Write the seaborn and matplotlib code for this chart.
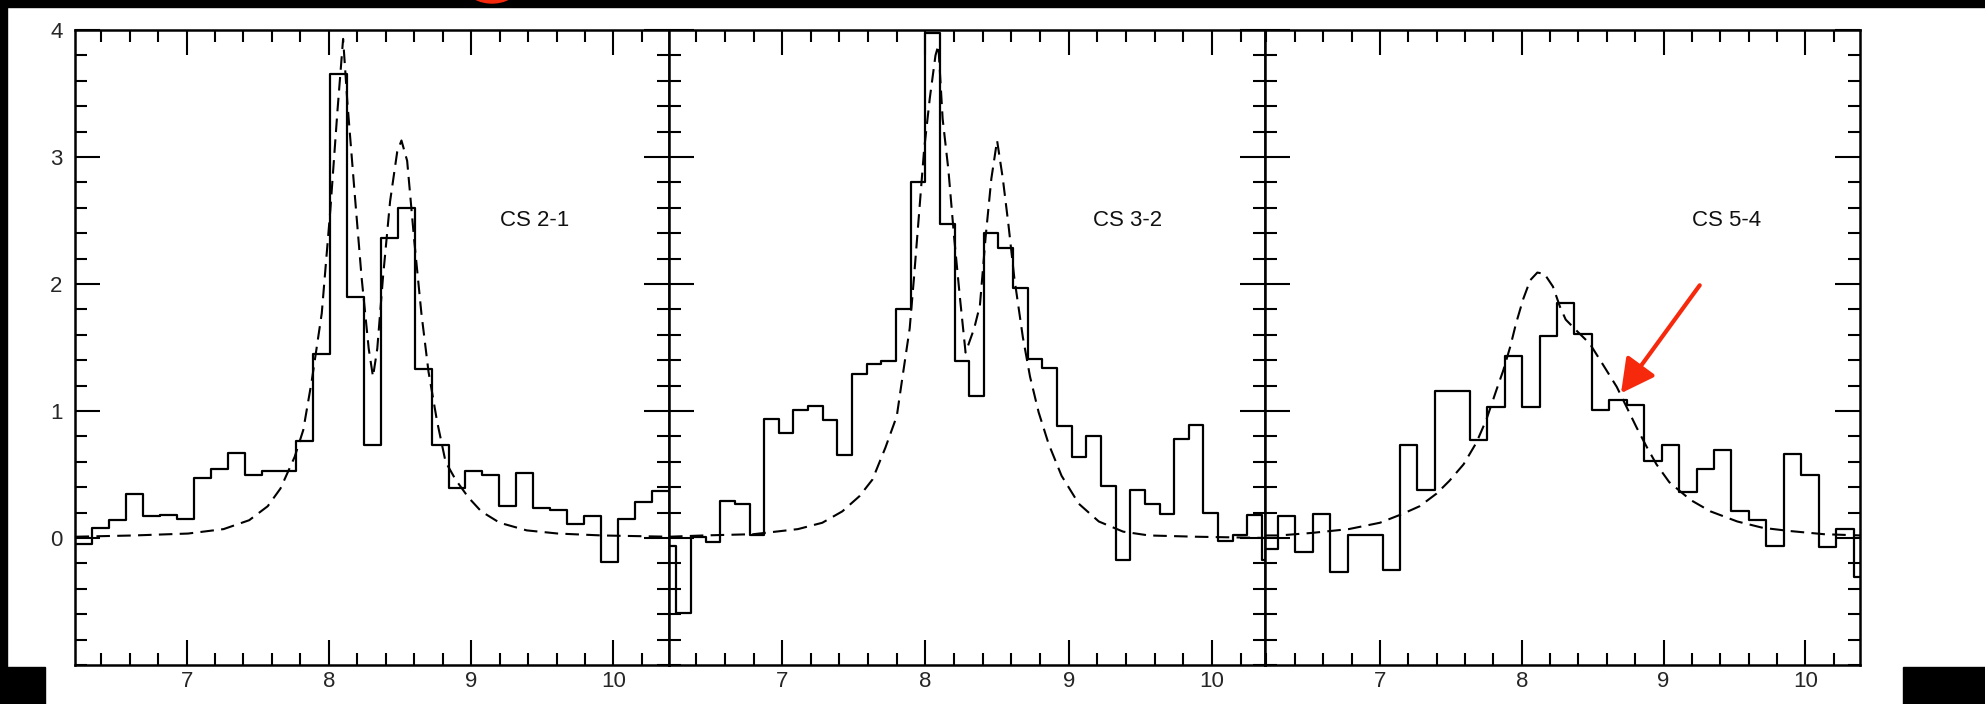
import numpy as np
import pandas as pd
import matplotlib
matplotlib.use("Agg")
import matplotlib.pyplot as plt
from matplotlib.patches import Rectangle, Ellipse
from matplotlib.ticker import MultipleLocator, FixedLocator
import seaborn as sns

# ---------------------------------------------------------------
# Observed spectra: first channel edge (km/s), channel width (km/s)
# and antenna temperature per channel (K)
# ---------------------------------------------------------------
cs21_v0, cs21_dv = 6.216, 0.1193
cs21_T = [-0.05, 0.08, 0.14, 0.35, 0.17, 0.18, 0.15, 0.47, 0.54, 0.67,
          0.50, 0.53, 0.53, 0.76, 1.45, 3.65, 1.90, 0.73, 2.36, 2.60,
          1.33, 0.73, 0.39, 0.53, 0.50, 0.25, 0.51, 0.24, 0.22, 0.11,
          0.17, -0.19, 0.15, 0.28, 0.37]

cs32_v0, cs32_dv = 6.159, 0.1022
cs32_T = [-0.06, -0.59, 0.01, -0.03, 0.29, 0.27, 0.02, 0.94, 0.83, 1.01,
          1.04, 0.93, 0.65, 1.29, 1.37, 1.39, 1.80, 2.80, 3.98, 2.47,
          1.39, 1.12, 2.40, 2.28, 1.97, 1.41, 1.34, 0.88, 0.64, 0.80,
          0.41, -0.17, 0.38, 0.27, 0.19, 0.78, 0.89, 0.20, -0.02, 0.02,
          0.18, -0.17]

cs54_v0, cs54_dv = 6.158, 0.123
cs54_T = [-0.09, 0.17, -0.11, 0.19, -0.27, 0.02, 0.02, -0.25, 0.73, 0.38,
          1.16, 1.16, 0.77, 1.03, 1.43, 1.03, 1.59, 1.85, 1.61, 1.01,
          1.09, 1.05, 0.61, 0.73, 0.36, 0.54, 0.69, 0.21, 0.14, -0.06,
          0.66, 0.50, -0.07, 0.07, -0.31]

# ---------------------------------------------------------------
# Model line profiles (dashed)
# ---------------------------------------------------------------
cs21_model_v = [6.22, 6.63, 7.01, 7.26, 7.44, 7.57, 7.66, 7.76, 7.82, 7.88,
                7.95, 8.01, 8.06, 8.10, 8.13, 8.18, 8.23, 8.28, 8.31, 8.34,
                8.38, 8.43, 8.48, 8.51, 8.55, 8.60, 8.65, 8.70, 8.76, 8.82,
                8.89, 8.98, 9.07, 9.20, 9.39, 9.61, 9.92, 10.39]
cs21_model_T = [0.01, 0.02, 0.035, 0.07, 0.14, 0.25, 0.39, 0.64, 0.85, 1.24,
                1.77, 2.58, 3.36, 3.93, 3.43, 2.73, 2.05, 1.49, 1.27, 1.49,
                2.05, 2.65, 3.04, 3.13, 2.97, 2.34, 1.77, 1.31, 0.92, 0.60,
                0.46, 0.32, 0.21, 0.12, 0.06, 0.035, 0.02, 0.01]

cs32_model_v = [6.21, 6.45, 6.80, 7.11, 7.28, 7.42, 7.54, 7.63, 7.72, 7.80,
                7.84, 7.89, 7.92, 7.96, 7.99, 8.03, 8.07, 8.09, 8.12, 8.16,
                8.20, 8.24, 8.28, 8.34, 8.38, 8.42, 8.46, 8.50, 8.54, 8.58,
                8.62, 8.68, 8.73, 8.79, 8.86, 8.95, 9.07, 9.21, 9.38, 9.56,
                9.89, 10.39]
cs32_model_T = [0.01, 0.02, 0.03, 0.07, 0.12, 0.21, 0.33, 0.46, 0.71, 0.96,
                1.27, 1.65, 2.05, 2.62, 3.05, 3.46, 3.80, 3.88, 3.30, 2.90,
                2.37, 1.90, 1.46, 1.65, 1.83, 2.37, 2.83, 3.13, 2.83, 2.46,
                2.05, 1.58, 1.27, 0.99, 0.74, 0.49, 0.27, 0.13, 0.05, 0.02,
                0.01, 0.0]

cs54_model_v = [6.19, 6.29, 6.52, 6.78, 7.00, 7.16, 7.28, 7.40, 7.49, 7.59,
                7.68, 7.75, 7.82, 7.87, 7.92, 7.96, 8.01, 8.06, 8.11, 8.16,
                8.22, 8.27, 8.31, 8.38, 8.48, 8.57, 8.67, 8.74, 8.81, 8.88,
                8.95, 9.04, 9.19, 9.33, 9.52, 9.70, 9.89, 10.13, 10.39]
cs54_model_T = [0.02, 0.02, 0.04, 0.07, 0.12, 0.19, 0.25, 0.35, 0.45, 0.58,
                0.75, 0.93, 1.16, 1.32, 1.51, 1.69, 1.88, 2.03, 2.09, 2.08,
                1.98, 1.82, 1.72, 1.64, 1.53, 1.37, 1.19, 1.03, 0.87, 0.72,
                0.58, 0.44, 0.30, 0.21, 0.13, 0.08, 0.055, 0.03, 0.02]

line_names = ["CS 2-1", "CS 3-2", "CS 5-4"]
x_tick_labels = [7, 8, 9, 10]
y_tick_labels = [0, 1, 2, 3, 4]

# ---------------------------------------------------------------
sns.set_theme(style="white")
plt.rcParams["font.family"] = ["Liberation Sans", "DejaVu Sans"]
plt.rcParams["axes.linewidth"] = 1.8

W, H = 1985, 704
fig = plt.figure(figsize=(W / 100, H / 100), dpi=100)
fig.patch.set_facecolor("white")

# panel boxes in pixels (left, right); common top/bottom
panel_px = [(75, 669), (669, 1265), (1265, 1860)]
top_px, bot_px = 30, 665
xlims = [(6.216, 10.39), (6.21, 10.37), (6.19, 10.385)]
label_x = [9.2, 9.17, 9.2]

spectra = [
    (cs21_v0, cs21_dv, cs21_T, cs21_model_v, cs21_model_T),
    (cs32_v0, cs32_dv, cs32_T, cs32_model_v, cs32_model_T),
    (cs54_v0, cs54_dv, cs54_T, cs54_model_v, cs54_model_T),
]

axes = []
for i, ((l, r), (v0, dv, T, mv, mT)) in enumerate(zip(panel_px, spectra)):
    ax = fig.add_axes([l / W, (H - bot_px) / H, (r - l) / W, (bot_px - top_px) / H])
    ax.set_facecolor("white")

    edges = v0 + dv * np.arange(len(T) + 1)
    steps = pd.DataFrame({"v": edges, "T": list(T) + [T[-1]]})
    sns.lineplot(data=steps, x="v", y="T", drawstyle="steps-post",
                 estimator=None, sort=False, color="black", lw=1.6, ax=ax)

    model = pd.DataFrame({"v": mv, "T": mT})
    sns.lineplot(data=model, x="v", y="T", estimator=None, sort=False,
                 color="black", lw=1.5, linestyle=(0, (6.5, 3.5)), ax=ax)

    ax.set_xlim(*xlims[i])
    ax.set_ylim(-1, 4)
    ax.set_xlabel("")
    ax.set_ylabel("")

    ax.xaxis.set_major_locator(FixedLocator(x_tick_labels))
    ax.xaxis.set_minor_locator(MultipleLocator(0.2))
    ax.yaxis.set_major_locator(FixedLocator(y_tick_labels))
    ax.yaxis.set_minor_locator(MultipleLocator(0.2))
    ax.set_xticklabels([str(t) for t in x_tick_labels])
    ax.tick_params(which="both", direction="in", top=True, bottom=True,
                   left=True, right=True, color="black", width=1.5)
    ax.tick_params(which="major", length=18)
    ax.tick_params(which="minor", length=8.5)
    ax.tick_params(axis="x", which="major", labelsize=16, pad=4)
    ax.tick_params(axis="y", which="major", labelsize=16, pad=9)
    if i == 0:
        ax.set_yticklabels([str(t) for t in y_tick_labels])
    else:
        ax.tick_params(axis="y", labelleft=False)
    for s in ax.spines.values():
        s.set_color("black")
        s.set_linewidth(1.8)

    ax.text(label_x[i], 2.5, line_names[i], fontsize=16, va="center",
            ha="left", color="#111111")
    axes.append(ax)

# red pointer on the CS 5-4 wing
red = "#f7290c"
axes[2].annotate("", xy=(8.70, 1.14), xytext=(9.255, 1.99),
                 arrowprops=dict(arrowstyle="-|>,head_length=1.7,head_width=0.9",
                                 color=red, lw=3, shrinkA=0, shrinkB=0))

# dark border strips around the page
for (x0, y0, w, h) in [(0, H - 7, W, 7), (0, 0, 7, H), (0, 0, 45, 37),
                       (1903, 0, W - 1903, 37)]:
    fig.add_artist(Rectangle((x0 / W, y0 / H), w / W, h / H,
                             transform=fig.transFigure, color="black",
                             zorder=5))
fig.add_artist(Ellipse((492 / W, (H + 36) / H), 78 / W, 78 / H,
                       transform=fig.transFigure, color=red, zorder=6,
                       clip_on=False))

fig.savefig("out.png", dpi=100, facecolor="white")
